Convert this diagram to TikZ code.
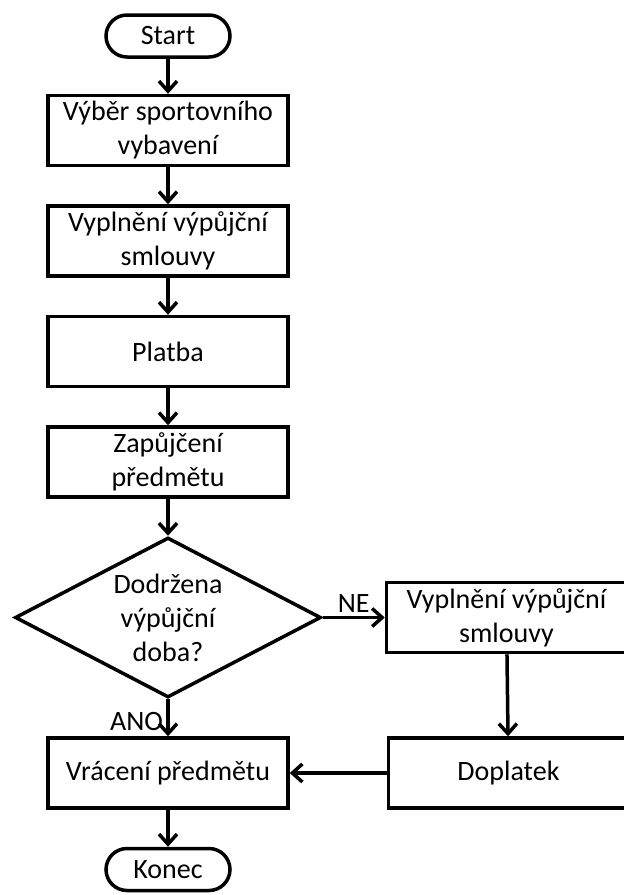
\documentclass[tikz,border=0pt]{standalone}
\usepackage{fontspec}
\setmainfont{Carlito}
\usetikzlibrary{shapes.geometric}
\usetikzlibrary{arrows.meta,positioning}

\begin{document}
\begin{tikzpicture}[
    x=1pt, y=1pt,
    node distance=37pt and 62pt,
    >={Straight Barb[length=10pt,width=18pt]},
    line width=3.5pt,
    every node/.style={font=\fontsize{28}{34}\selectfont},
    block/.style={
        draw,
        rectangle,
        align=center,
        inner sep=2pt,
        minimum width=240pt,
        minimum height=70pt
    },
    terminal/.style={
        draw,
        rectangle,
        rounded corners=21pt,
        inner sep=0pt,
        minimum width=124pt,
        minimum height=42pt
    },
    decision/.style={
        draw,
        diamond,
        aspect=2,
        align=center,
        inner sep=0pt,
        minimum width=306pt,
        minimum height=160pt
    }
]
\useasboundingbox (0,0) rectangle (624,-895);

% ==========================================================
% MAIN COLUMN
% ==========================================================
\node[terminal] (start) at (168,-36) {Start};
\node[block, below=35pt of start] (select) {Výběr sportovního\\vybavení};
\node[block, below=of select] (contract) {Vyplnění výpůjční\\smlouvy};
\node[block, below=of contract] (payment) {Platba};
\node[block, below=of payment] (lend) {Zapůjčení\\předmětu};
\node[decision, below=of lend] (check) {Dodržena\\výpůjční\\doba?};
\node[block, below=37pt of check] (return) {Vrácení předmětu};
\node[terminal, below=of return] (finish) {Konec};

% ==========================================================
% RIGHT BRANCH
% ==========================================================
\node[block, right=of check] (contract2) {Vyplnění výpůjční\\smlouvy};
\node[block, right=97pt of return] (surcharge) {Doplatek};

% ==========================================================
% CONNECTIONS
% ==========================================================
\draw[->] (start) -- (select);
\draw[->] (select) -- (contract);
\draw[->] (contract) -- (payment);
\draw[->] (payment) -- (lend);
\draw[->] (lend) -- (check);

\draw[->] (check.south) -- node[left, pos=0.6] {ANO} (return.north);
\draw[->] (check.east) -- node[above] {NE} (contract2.west);

\draw[->] (contract2) -- (surcharge);
\draw[->] (surcharge) -- (return);
\draw[->] (return) -- (finish);

\end{tikzpicture}
\end{document}
